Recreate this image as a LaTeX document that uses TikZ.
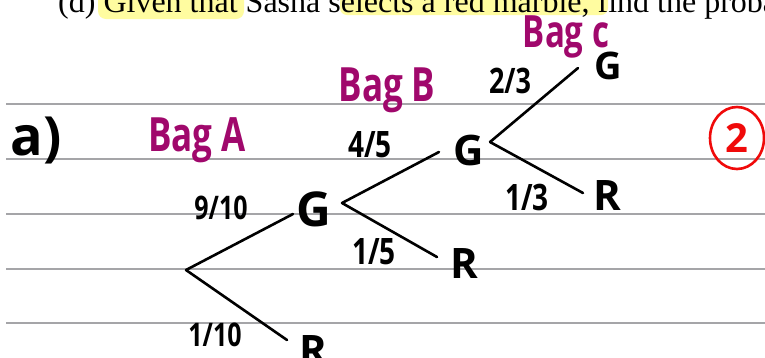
\documentclass[tikz,border=0pt]{standalone}
\usepackage{fontspec}
\usetikzlibrary{shapes.geometric}
\setmainfont{Liberation Serif}
\newfontfamily\hand{Open Sans}
\definecolor{ruleGray}{RGB}{165,165,168}
\definecolor{bagMag}{RGB}{160,8,108}
\definecolor{markRed}{RGB}{240,10,10}
\definecolor{hiYellow}{RGB}{255,252,160}
\newcommand{\tallbag}[1]{\scalebox{1}[1.35]{#1}}
\newcommand{\tallfrac}[1]{\scalebox{1}[1.3]{#1}}
\begin{document}
\begin{tikzpicture}[x=1pt,y=-1pt,
  ruled/.style={draw=ruleGray,line width=1.8pt},
  branch/.style={draw=black,line width=2.6pt,line cap=round},
  outcome/.style={font=\hand\bfseries\fontsize{42}{42}\selectfont,inner sep=0pt},
  prob/.style={font=\hand\bfseries\fontsize{25}{25}\selectfont,inner sep=0pt},
  baglabel/.style={font=\hand\bfseries\fontsize{35}{35}\selectfont,text=bagMag,inner sep=0pt},
]
\useasboundingbox (0,0) rectangle (765,357);
\fill[white] (0,0) rectangle (765,357);
\begin{scope}
\clip (0,0) rectangle (765,357);
% highlights
\fill[hiYellow,rounded corners=8pt] (98,-10) rectangle (244,19);
\fill[hiYellow,rounded corners=7pt] (340,-10) rectangle (608,15);
% question text
\node[anchor=base west,inner sep=0pt,font=\fontsize{32}{32}\selectfont] (q) at (58,12) {(d) Given that Sasha selects a red marble, find the probability};
% ruled lines
\foreach \yy in {104,159,214,269,323} \draw[ruled] (6,\yy) -- (765,\yy);
\end{scope}
% labels
\node[font=\hand\bfseries\fontsize{54}{54}\selectfont,inner sep=0pt] (part) at (36,140) {a)};
\node[baglabel] (bagA) at (197,140) {\tallbag{Bag A}};
\node[baglabel] (bagB) at (387,90) {\tallbag{Bag B}};
\node[baglabel,font=\hand\bfseries\fontsize{33}{33}\selectfont] (bagC) at (566,37) {\tallbag{Bag c}};
% tree
\coordinate (root) at (186,270);
\coordinate (aG) at (293,214);
\coordinate (aR) at (287,340);
\coordinate (bFork) at (342,203);
\coordinate (bG) at (439,152);
\coordinate (bR) at (437,257);
\coordinate (cFork) at (490,142);
\coordinate (cG) at (578,68);
\coordinate (cR) at (583,193);
\draw[branch] (root) -- (aG);
\draw[branch] (root) -- (aR);
\draw[branch] (bFork) -- (bG);
\draw[branch] (bFork) -- (bR);
\draw[branch] (cFork) -- (cG);
\draw[branch] (cFork) -- (cR);
\node[outcome,font=\hand\bfseries\fontsize{48}{48}\selectfont] (G1) at (314,209) {G};
\node[outcome] (R1) at (313,350) {R};
\node[outcome] (G2) at (469,150) {G};
\node[outcome] (R2) at (464,264) {R};
\node[outcome,font=\hand\bfseries\fontsize{38}{38}\selectfont] (G3) at (608,66) {G};
\node[outcome] (R3) at (607,196) {R};
\node[prob] (p1) at (221,208) {\tallfrac{9/10}};
\node[prob] (p2) at (215,335) {\tallfrac{1/10}};
\node[prob,font=\hand\bfseries\fontsize{28}{28}\selectfont] (p3) at (370,145) {\tallfrac{4/5}};
\node[prob,font=\hand\bfseries\fontsize{28}{28}\selectfont] (p4) at (374,252) {\tallfrac{1/5}};
\node[prob,font=\hand\bfseries\fontsize{27}{27}\selectfont] (p5) at (510,81) {\tallfrac{2/3}};
\node[prob,font=\hand\bfseries\fontsize{28}{28}\selectfont] (p6) at (527,197) {\tallfrac{1/3}};
% mark
\node[draw=markRed,line width=2.6pt,ellipse,minimum width=54pt,minimum height=62pt,inner sep=0pt,text=markRed,font=\hand\bfseries\fontsize{40}{40}\selectfont] (mark) at (737,138) {2};
\end{tikzpicture}
\end{document}
